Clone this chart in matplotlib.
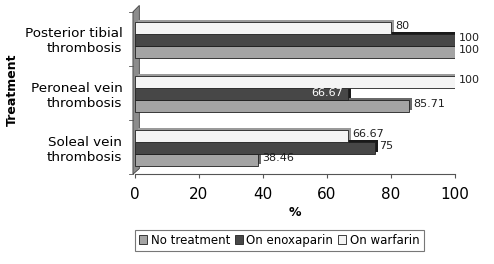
import numpy as np
import matplotlib.pyplot as plt
import matplotlib.patheffects as pe
from matplotlib.patches import Polygon, Patch

# donnees
categories = ['Soleal vein\nthrombosis', 'Peroneal vein\nthrombosis', 'Posterior tibial\nthrombosis']
no_treatment = [38.46, 85.71, 100]
enoxaparin = [75, 66.67, 100]
warfarin = [66.67, 100, 80]
series_names = ['No treatment', 'On enoxaparin', 'On warfarin']

colors = ['#a4a4a4', '#474747', '#f4f4f4']
shadows = ['#6a6a6a', '#1a1a1a', '#9a9a9a']

fig = plt.figure(figsize=(4.94, 2.64), dpi=100)
ax = fig.add_axes([0.273, 0.34, 0.648, 0.615])

y = np.arange(len(categories))
h = 0.22
offsets = [-h - 0.02, -0.02, h - 0.02]
all_series = [no_treatment, enoxaparin, warfarin]

for vals, off, c, sc, name in zip(all_series, offsets, colors, shadows, series_names):
    bars = ax.barh(y + off, vals, height=h, color=c, edgecolor='#202020', linewidth=0.6,
                   path_effects=[pe.SimplePatchShadow(offset=(2.2, 1.8), shadow_rgbFace=sc, alpha=1), pe.Normal()])
    for b, v in zip(bars, vals):
        txt = ('%.2f' % v).rstrip('0').rstrip('.')
        if name == 'On enoxaparin' and v == 66.67:
            ax.text(v - 1.5, b.get_y() + h / 2 + 0.03, txt, ha='right', va='center', fontsize=8, color='white')
        else:
            ax.text(v + 1.2, b.get_y() + h / 2 + 0.04, txt, ha='left', va='center', fontsize=8, color='#202020')

ax.set_xlim(0, 100)
ax.set_ylim(-0.5, 2.5)
ax.set_xticks([0, 20, 40, 60, 80, 100])
ax.tick_params(axis='x', labelsize=11, length=3, color='#555555', pad=6)
ax.set_yticks(y)
ax.set_yticklabels(categories, fontsize=9.7, ha='right')
ax.tick_params(axis='y', length=0, pad=9)
for s in ['top', 'right', 'left']:
    ax.spines[s].set_visible(False)
ax.spines['bottom'].set_color('#555555')

# mur gauche facon excel 3D
wall = Polygon([(-0.006, 0.0), (0.014, 0.035), (0.014, 1.04), (-0.006, 1.0)], closed=True,
               transform=ax.transAxes, facecolor='#8c8c8c', edgecolor='#404040', lw=0.6, clip_on=False, zorder=0)
ax.add_patch(wall)
for yy in [0, 1/3, 2/3, 1]:
    ax.plot([-0.018, -0.006], [yy, yy], transform=ax.transAxes, color='#555555', lw=0.6, clip_on=False)

ax.set_xlabel('%', fontsize=9, fontweight='bold', labelpad=3)
fig.text(0.025, 0.66, 'Treatment', rotation=90, fontsize=9, fontweight='bold', ha='center', va='center')

handles = [Patch(facecolor=c, edgecolor='#202020', linewidth=0.6) for c in colors]
leg = fig.legend(handles, series_names, loc='center', bbox_to_anchor=(0.565, 0.09), ncol=3, fontsize=8.5,
                 frameon=True, fancybox=False, handlelength=0.7, handleheight=0.7, handletextpad=0.3,
                 columnspacing=0.4, borderpad=0.35)
leg.get_frame().set_edgecolor('#555555')
leg.get_frame().set_linewidth(0.8)

plt.savefig('out.png', dpi=100)
